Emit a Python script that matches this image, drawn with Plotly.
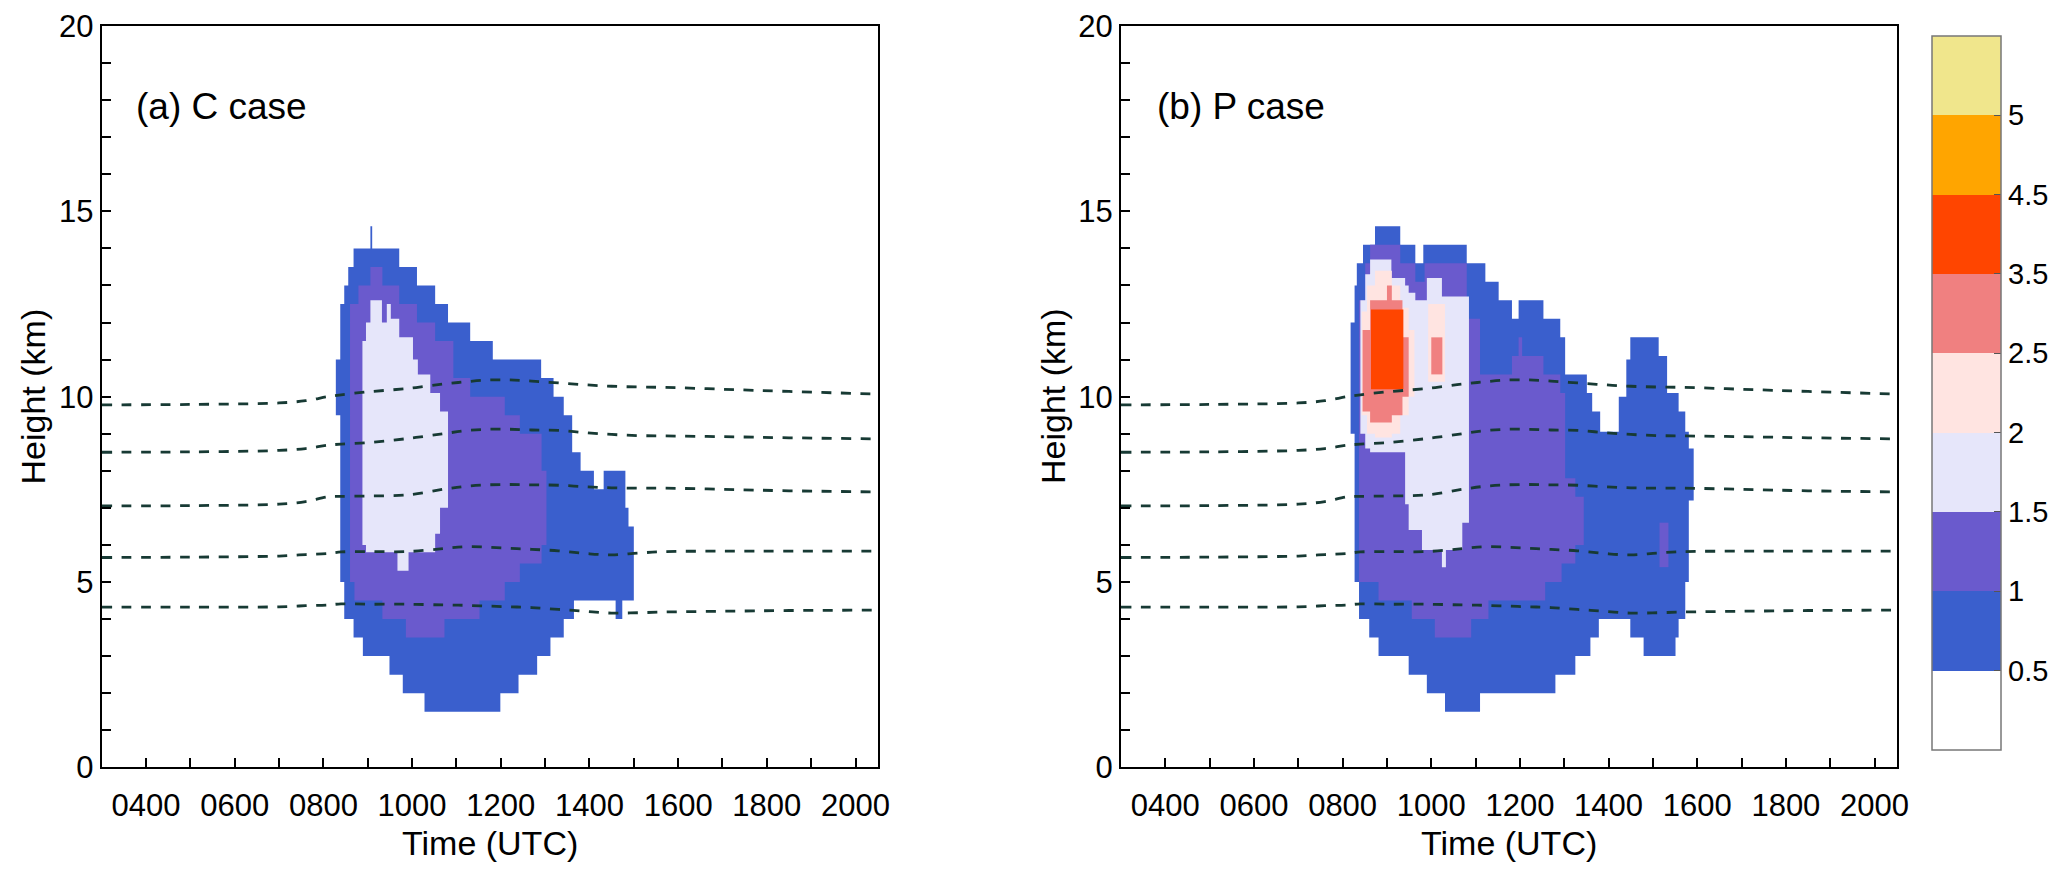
import plotly.graph_objects as go

# time in decimal hours UTC, height in km

# colour classes of the shaded field (bins 0-9 on the colour bar)
bin_colors = ["#ffffff", "#3a5fcd", "#6a5acd", "#e6e6fa", "#ffe4e1",
              "#f08080", "#ff4500", "#ffa500", "#f0e68c"]
bin_labels = ["0.5", "1", "1.5", "2", "2.5", "3.5", "4.5", "5"]

# ---- (a) C case : column edges, top and bottom of each class region
c_blue_t = [8.28, 8.38, 8.47, 8.56, 8.68, 8.89, 9.06, 9.10, 9.49, 9.71, 9.79, 10.11, 10.28,
            10.52, 10.81, 11.31, 11.82, 11.99, 12.40, 12.82, 12.91, 13.12, 13.19, 13.42,
            13.61, 13.65, 13.80, 14.10, 14.32, 14.59, 14.74, 14.81, 14.88, 15.0]
c_blue_top = [11.0, 12.5, 13.0, 13.5, 14.0, 14.0, 14.6, 14.0, 14.0, 13.5, 13.5, 13.0, 13.0,
              12.5, 12.0, 11.5, 11.0, 11.0, 11.0, 11.0, 10.5, 10.5, 10.0, 9.5, 8.5, 8.5,
              8.0, 7.5, 8.0, 8.0, 8.0, 7.0, 6.5]
c_blue_bot = [9.5, 5.0, 4.0, 4.0, 3.5, 3.0, 3.0, 3.0, 2.5, 2.5, 2.0, 2.0, 1.5, 1.5, 1.5,
              1.5, 1.5, 2.0, 2.5, 3.0, 3.0, 3.5, 3.5, 4.0, 4.0, 4.5, 4.5, 4.5, 4.5, 4.0,
              4.5, 4.5, 4.5]

c_purple_t = [8.60, 8.70, 8.79, 9.06, 9.33, 9.71, 9.86, 10.11, 10.52, 10.73, 10.93, 11.31,
              11.52, 12.09, 12.43, 12.92, 13.03]
c_purple_top = [12.5, 12.5, 13.0, 13.5, 13.0, 12.5, 12.5, 12.0, 11.5, 11.5, 10.5, 10.0,
                10.0, 9.5, 9.0, 8.0]
c_purple_bot = [5.0, 4.5, 4.5, 4.5, 4.0, 4.0, 3.5, 3.5, 3.5, 4.0, 4.0, 4.0, 4.5, 5.0,
                5.5, 6.0]

c_lav_t = [8.88, 8.96, 9.06, 9.32, 9.43, 9.52, 9.67, 9.71, 9.92, 10.02, 10.13, 10.41,
           10.52, 10.63, 10.81]
c_lav_top = [11.5, 12.0, 12.6, 12.0, 12.5, 12.1, 12.1, 11.6, 11.6, 11.0, 10.6, 10.1,
             10.1, 9.6]
c_lav_bot = [6.0, 5.8, 5.8, 5.8, 5.8, 5.8, 5.3, 5.3, 5.8, 5.8, 5.8, 5.8, 6.3, 7.0]

# ---- (b) P case
p_blue_t = [8.18, 8.27, 8.32, 8.37, 8.46, 8.60, 8.73, 8.81, 9.30, 9.49, 9.64, 9.82, 9.90,
            10.31, 10.80, 11.10, 11.22, 11.52, 11.82, 11.97, 12.53, 12.80, 12.91, 13.02,
            13.25, 13.51, 13.59, 13.63, 13.78, 13.81, 14.23, 14.40, 14.49, 14.79, 15.13,
            15.32, 15.51, 15.58, 15.73, 15.81, 15.92]
p_blue_top = [12.0, 13.0, 13.6, 13.6, 14.1, 14.1, 14.6, 14.6, 14.1, 14.1, 13.6, 14.1, 14.1,
              14.1, 13.6, 13.6, 13.1, 12.6, 12.1, 12.6, 12.1, 12.1, 11.6, 10.6, 10.6, 10.1,
              10.1, 9.6, 9.6, 9.05, 10.0, 11.0, 11.6, 11.6, 11.1, 10.1, 10.1, 9.6, 9.05, 8.6]
p_blue_bot = [9.0, 5.0, 5.0, 4.0, 4.0, 3.5, 3.5, 3.0, 3.0, 2.5, 2.5, 2.5, 2.0, 1.5, 1.5,
              2.0, 2.0, 2.0, 2.0, 2.0, 2.0, 2.5, 2.5, 2.5, 3.0, 3.0, 3.5, 3.5, 4.0, 4.0,
              4.0, 4.0, 3.5, 3.0, 3.0, 3.0, 3.5, 4.0, 5.0, 7.2]

p_purple_t = [8.37, 8.51, 8.62, 8.81, 9.30, 9.56, 9.64, 9.85, 10.08, 10.80, 10.90, 11.10,
              11.29, 11.82, 11.97, 12.05, 12.53, 12.57, 12.91, 12.94, 13.02, 13.25, 13.44]
p_purple_top = [12.6, 13.6, 14.1, 14.1, 13.6, 13.6, 13.1, 13.6, 13.6, 12.1, 12.1, 10.6,
                10.6, 11.1, 11.6, 11.1, 10.6, 10.6, 10.1, 10.1, 7.8, 7.3]
p_purple_bot = [5.0, 5.0, 5.0, 4.5, 4.5, 4.0, 4.0, 4.0, 3.5, 3.5, 4.0, 4.0, 4.5, 4.5, 4.5,
                4.5, 4.5, 5.0, 5.0, 5.5, 5.5, 6.0]
p_purple2_t = [15.15, 15.35]
p_purple2_top = [6.6]
p_purple2_bot = [5.4]

p_lav_t = [8.40, 8.51, 8.62, 9.10, 9.41, 9.49, 9.64, 9.79, 9.90, 10.24, 10.33, 10.70, 10.85]
p_lav_top = [12.6, 13.3, 13.7, 13.2, 13.0, 12.8, 12.6, 12.6, 13.2, 12.7, 12.7, 12.7]
p_lav_bot = [9.0, 8.6, 8.5, 8.5, 7.1, 6.4, 6.4, 5.86, 5.86, 5.4, 5.86, 6.6]

p_rose_t = [8.43, 8.55, 8.73, 9.11, 9.30, 9.49, 9.62]
p_rose_top = [12.3, 13.0, 13.4, 13.0, 12.4, 11.8]
p_rose_bot = [9.5, 9.0, 8.9, 9.0, 9.5, 10.0]
p_rose2_t = [9.93, 10.31]
p_rose2_top = [12.5]
p_rose2_bot = [10.4]

p_coral_t = [8.45, 8.62, 9.00, 9.11, 9.35, 9.49]
p_coral_top = [11.8, 12.6, 13.0, 12.6, 11.6]
p_coral_bot = [9.6, 9.3, 9.3, 9.5, 10.0]
p_coral2_t = [10.0, 10.25]
p_coral2_top = [11.6]
p_coral2_bot = [10.6]

p_red_t = [8.64, 9.37]
p_red_top = [12.35]
p_red_bot = [10.2]

# ---- dashed isolines (same in both panels)
iso_t = [3.0, 5.0, 7.0, 7.6, 8.1, 8.4, 9.0, 9.9, 10.7, 11.2, 11.7, 12.2, 12.7, 13.3, 13.9,
         14.5, 15.1, 15.7, 17.0, 18.5, 20.5]
iso_1 = [9.78, 9.79, 9.83, 9.89, 10.0, 10.05, 10.13, 10.22, 10.34, 10.40, 10.45, 10.45,
         10.42, 10.37, 10.32, 10.28, 10.26, 10.25, 10.20, 10.14, 10.07]
iso_2 = [8.50, 8.51, 8.55, 8.60, 8.69, 8.72, 8.76, 8.87, 9.0, 9.08, 9.12, 9.12, 9.10, 9.09,
         9.03, 8.98, 8.95, 8.94, 8.92, 8.89, 8.86]
iso_3 = [7.05, 7.06, 7.10, 7.17, 7.30, 7.31, 7.32, 7.35, 7.50, 7.58, 7.62, 7.63, 7.62, 7.61,
         7.57, 7.54, 7.53, 7.53, 7.50, 7.46, 7.43]
iso_4 = [5.66, 5.67, 5.70, 5.74, 5.77, 5.81, 5.82, 5.82, 5.90, 5.95, 5.94, 5.91, 5.88, 5.84,
         5.77, 5.73, 5.78, 5.82, 5.83, 5.83, 5.83]
iso_5 = [4.32, 4.32, 4.33, 4.36, 4.38, 4.41, 4.40, 4.40, 4.38, 4.37, 4.35, 4.33, 4.31, 4.26,
         4.21, 4.16, 4.17, 4.19, 4.21, 4.23, 4.24]

x_tickvals = [4, 6, 8, 10, 12, 14, 16, 18, 20]
x_ticktext = ["0400", "0600", "0800", "1000", "1200", "1400", "1600", "1800", "2000"]

FONT = "Liberation Sans, Arial, Helvetica, sans-serif"


def staircase(edges, tops, bots):
    xs, ys = [], []
    for i in range(len(tops)):
        xs += [edges[i], edges[i + 1]]
        ys += [tops[i], tops[i]]
    for i in reversed(range(len(bots))):
        xs += [edges[i + 1], edges[i]]
        ys += [bots[i], bots[i]]
    return xs, ys


def add_region(fig, edges, tops, bots, color, xa, ya):
    xs, ys = staircase(edges, tops, bots)
    fig.add_trace(go.Scatter(x=xs, y=ys, mode="lines", fill="toself", fillcolor=color,
                             line=dict(width=0, color=color), hoverinfo="skip",
                             showlegend=False, xaxis=xa, yaxis=ya))


fig = go.Figure()

c_regions = [
    (c_blue_t, c_blue_top, c_blue_bot, bin_colors[1]),
    (c_purple_t, c_purple_top, c_purple_bot, bin_colors[2]),
    (c_lav_t, c_lav_top, c_lav_bot, bin_colors[3]),
]
p_regions = [
    (p_blue_t, p_blue_top, p_blue_bot, bin_colors[1]),
    (p_purple_t, p_purple_top, p_purple_bot, bin_colors[2]),
    (p_purple2_t, p_purple2_top, p_purple2_bot, bin_colors[2]),
    (p_lav_t, p_lav_top, p_lav_bot, bin_colors[3]),
    (p_rose_t, p_rose_top, p_rose_bot, bin_colors[4]),
    (p_rose2_t, p_rose2_top, p_rose2_bot, bin_colors[4]),
    (p_coral_t, p_coral_top, p_coral_bot, bin_colors[5]),
    (p_coral2_t, p_coral2_top, p_coral2_bot, bin_colors[5]),
    (p_red_t, p_red_top, p_red_bot, bin_colors[6]),
]

for e, t, b, col in c_regions:
    add_region(fig, e, t, b, col, "x", "y")
for e, t, b, col in p_regions:
    add_region(fig, e, t, b, col, "x2", "y2")

for xa, ya in [("x", "y"), ("x2", "y2")]:
    for iso in [iso_1, iso_2, iso_3, iso_4, iso_5]:
        fig.add_trace(go.Scatter(x=iso_t, y=iso, mode="lines", line_shape="spline",
                                 line=dict(color="#173a34", width=2.8, dash="10px,9.5px"),
                                 hoverinfo="skip", showlegend=False, xaxis=xa, yaxis=ya))

# colour bar only
scale = []
for i, c in enumerate(bin_colors):
    scale += [[i / 9, c], [(i + 1) / 9, c]]
fig.add_trace(go.Scatter(
    x=[None], y=[None], mode="markers", showlegend=False, hoverinfo="skip",
    marker=dict(color=[0], cmin=0, cmax=9, colorscale=scale, showscale=True,
                colorbar=dict(x=0.93793, xanchor="left", y=0.96794, yanchor="top",
                              len=714, lenmode="pixels", thickness=69, xpad=0, ypad=0,
                              outlinecolor="#777777", outlinewidth=1.5,
                              tickvals=list(range(1, 9)), ticktext=bin_labels,
                              ticks="inside", ticklen=7, tickcolor="#555555",
                              tickfont=dict(size=29, family=FONT, color="black"))),
))

xaxis_style = dict(range=[3, 20.5], showline=True, mirror=True, linecolor="black", linewidth=2,
                   showgrid=False, zeroline=False, automargin=False,
                   ticks="inside", ticklen=9, tickwidth=2,
                   tickcolor="black", tickvals=x_tickvals, ticktext=x_ticktext,
                   minor=dict(tickvals=list(range(3, 21)), ticks="inside", ticklen=9,
                              tickwidth=2, tickcolor="black"),
                   ticklabelstandoff=9,
                   tickfont=dict(size=31, family=FONT, color="black"))
yaxis_style = dict(range=[0, 20], showline=True, mirror=True, linecolor="black", linewidth=2,
                   showgrid=False, zeroline=False, automargin=False,
                   ticks="inside", ticklen=9, tickwidth=2,
                   tickcolor="black", tickvals=[0, 5, 10, 15, 20],
                   minor=dict(dtick=1, ticks="inside", ticklen=9, tickwidth=2, tickcolor="black"),
                   tickfont=dict(size=31, family=FONT, color="black"))

# the page adds an 8 px margin round the figure, so the figure is 16 px smaller than the window
fig.update_layout(
    template="none",
    width=2051, height=864,
    margin=dict(l=0, r=0, t=0, b=0, pad=0),
    paper_bgcolor="white", plot_bgcolor="white",
    font=dict(family=FONT, color="black"),
    showlegend=False,
    xaxis=dict(domain=[0.04568, 0.42404], anchor="y", **xaxis_style),
    yaxis=dict(domain=[0.12118, 0.97917], anchor="x", **yaxis_style),
    xaxis2=dict(domain=[0.54266, 0.92087], anchor="y2", **xaxis_style),
    yaxis2=dict(domain=[0.12118, 0.97917], anchor="x2", **yaxis_style),
)

annotations = [
    ("(a) C case", 0.06143, 0.88657, "left", 0, 37),
    ("(b) P case", 0.55924, 0.88657, "left", 0, 37),
    ("Height (km)", 0.01243, 0.55093, "center", -90, 34),
    ("Height (km)", 0.50951, 0.55093, "center", -90, 34),
    ("Time (UTC)", 0.23486, 0.03356, "center", 0, 34),
    ("Time (UTC)", 0.73184, 0.03356, "center", 0, 34),
]
for text, ax, ay, anchor, angle, size in annotations:
    fig.add_annotation(text=text, x=ax, y=ay, xref="paper", yref="paper", xanchor=anchor,
                       yanchor="middle", textangle=angle, showarrow=False,
                       font=dict(size=size, family=FONT, color="black"))

fig.write_html("out.html")
